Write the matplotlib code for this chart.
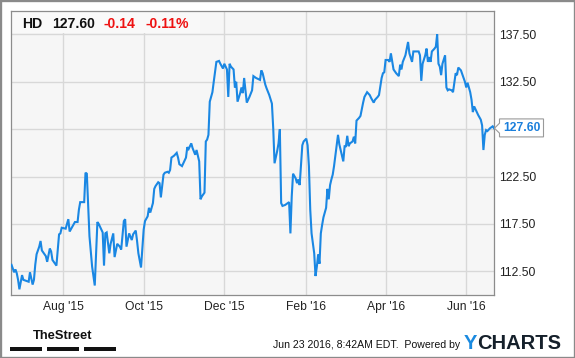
import matplotlib
matplotlib.use("Agg")
import matplotlib.pyplot as plt
import matplotlib.patches as mpatches
import matplotlib.transforms as mtrans
import pandas as pd
import numpy as np

# ---------------- data ----------------
base_date = "2015-08-01"
day_offsets = [-40, -39, -37, -36, -35, -34, -33, -31, -30, -26, -25, -23, -22, -21, -20, -18, -17, -16, -13, -12,
               -10, -9, -8, -5, -3, -2, -1, 2, 4, 5, 7, 9, 11, 12, 13, 16, 17, 18, 20, 22,
               24, 26, 27, 29, 30, 31, 32, 33, 35, 36, 38, 39, 41, 43, 44, 46, 47, 48, 50, 52,
               53, 55, 56, 57, 59, 61, 62, 64, 65, 66, 68, 69, 70, 72, 73, 74, 76, 77, 79, 80,
               81, 82, 84, 86, 87, 88, 90, 93, 94, 95, 97, 98, 100, 101, 103, 104, 105, 107, 108, 109,
               110, 111, 113, 114, 116, 118, 119, 121, 122, 124, 125, 126, 127, 129, 130, 131, 132, 134, 135, 136,
               137, 139, 141, 143, 144, 146, 149, 150, 151, 153, 154, 156, 158, 159, 160, 162, 163, 164, 165, 166,
               168, 171, 172, 173, 174, 176, 177, 178, 179, 181, 182, 184, 185, 186, 187, 188, 190, 191, 192, 193,
               194, 195, 196, 197, 199, 200, 201, 202, 203, 204, 205, 208, 209, 212, 213, 214, 215, 216, 217, 219,
               220, 221, 222, 224, 225, 227, 228, 230, 232, 233, 235, 236, 238, 239, 241, 242, 243, 244, 246, 247,
               248, 250, 252, 254, 255, 256, 257, 259, 260, 261, 262, 264, 265, 268, 269, 270, 271, 272, 274, 275,
               276, 277, 278, 279, 281, 282, 283, 284, 285, 286, 287, 289, 290, 291, 292, 294, 295, 297, 298, 299,
               301, 303, 304, 305, 306, 308, 309, 310, 311, 312, 314, 316, 317, 318, 319, 320, 321, 323, 325, 326]
prices = [113.2, 113.2, 112.4, 112.7, 112.3, 111.6, 110.6, 112.1, 111.6, 111.4, 112.4, 111.1, 111.6, 113.2, 114.3, 115.1, 115.7, 114.7, 114.1, 113.5,
          114.9, 114.6, 113.7, 113.1, 116.4, 116.5, 117.1, 117.0, 118.0, 116.7, 117.2, 117.7, 117.7, 119.0, 119.8, 119.8, 122.9, 122.8, 116.2, 113.0,
          111.0, 117.7, 117.5, 116.9, 116.6, 113.1, 116.5, 116.6, 114.4, 115.4, 116.5, 114.0, 115.4, 115.1, 114.8, 117.8, 118.0, 115.1, 116.5, 115.8,
          116.4, 116.8, 115.7, 114.4, 112.9, 116.9, 117.8, 118.3, 119.2, 118.7, 119.7, 121.2, 121.5, 121.9, 121.8, 120.3, 122.7, 122.9, 123.0, 122.9,
          123.2, 124.5, 124.7, 125.0, 124.5, 123.8, 123.6, 124.5, 125.6, 125.4, 126.0, 125.5, 124.8, 125.3, 124.1, 120.1, 120.4, 120.8, 126.2, 126.4,
          126.9, 130.4, 131.4, 132.5, 134.6, 134.7, 134.4, 133.9, 134.4, 133.8, 130.9, 134.4, 134.1, 133.8, 131.9, 132.5, 130.4, 131.3, 131.9, 131.3,
          132.9, 130.3, 130.9, 131.6, 133.1, 132.9, 132.7, 133.7, 133.4, 132.2, 131.8, 131.1, 130.2, 127.6, 123.9, 125.2, 126.0, 127.5, 119.7, 119.4,
          119.5, 119.8, 116.5, 120.4, 122.8, 122.3, 121.8, 122.2, 121.6, 125.8, 126.2, 126.5, 125.8, 123.6, 119.0, 116.5, 114.4, 112.0, 113.0, 114.3,
          113.3, 116.5, 117.4, 118.2, 119.2, 121.2, 120.1, 121.6, 122.2, 122.7, 123.6, 126.9, 125.9, 124.1, 125.7, 125.7, 126.8, 125.7, 126.0, 126.2,
          126.7, 126.0, 128.4, 128.7, 128.9, 130.3, 130.9, 131.4, 131.1, 130.8, 130.3, 130.6, 130.9, 131.1, 132.9, 133.4, 133.5, 134.8, 134.8, 134.6,
          135.5, 133.8, 133.4, 133.1, 134.3, 133.8, 134.6, 135.3, 136.0, 136.7, 135.5, 134.6, 135.7, 135.7, 135.7, 135.3, 132.6, 134.4, 135.3, 136.0,
          134.6, 135.1, 134.6, 135.7, 136.0, 136.2, 137.5, 134.4, 134.1, 133.2, 134.4, 135.3, 131.9, 131.6, 131.7, 131.6, 131.4, 133.4, 133.2, 134.0,
          133.7, 132.9, 132.5, 131.9, 132.4, 131.4, 130.6, 129.3, 129.9, 129.6, 129.0, 128.5, 127.9, 125.3, 126.9, 127.4, 127.3, 127.6, 127.8, 127.6]

ticker = "HD"
last_price = "127.60"
change = "-0.14"
change_pct = "-0.11%"
x_tick_dates = ["2015-08-01", "2015-10-01", "2015-12-01", "2016-02-01", "2016-04-01", "2016-06-01"]
x_tick_labels = ["Aug '15", "Oct '15", "Dec '15", "Feb '16", "Apr '16", "Jun '16"]
y_ticks = [112.5, 117.5, 122.5, 127.5, 132.5, 137.5]
y_tick_labels = ["112.50", "117.50", "122.50", "", "132.50", "137.50"]  # 127.50 hidden by the price callout
x_start = "2015-06-22 10:00"
x_end = "2016-06-22"
timestamp = "Jun 23 2016, 8:42AM EDT.  Powered by"

# ---------------- figure ----------------
plt.rcParams['font.family'] = ['Liberation Sans', 'DejaVu Sans']
W, H = 575, 358
fig = plt.figure(figsize=(W / 100, H / 100), dpi=100)
fig.patch.set_facecolor('white')

L, R, T, B = 10.7, 494.0, 10.7, 295.0
ax = fig.add_axes([L / W, 1 - B / H, (R - L) / W, (B - T) / H])
ax.set_facecolor('#f6f6f6')

dates = pd.Timestamp(base_date) + pd.to_timedelta(day_offsets, unit='D')
line_color = '#1a87e3'
ax.plot(dates, prices, color=line_color, lw=1.5, zorder=3, solid_joinstyle='miter')

ax.set_xlim(pd.Timestamp(x_start), pd.Timestamp(x_end))
ax.set_ylim(110, 140)
ax.set_xticks(pd.to_datetime(x_tick_dates))
ax.set_xticklabels(x_tick_labels)
ax.set_yticks(y_ticks)
ax.set_yticklabels(y_tick_labels)
ax.yaxis.tick_right()
ax.tick_params(axis='both', length=0, labelsize=8.7, colors='#222222')
ax.tick_params(axis='y', pad=4)
ax.tick_params(axis='x', pad=4)
ax.grid(True, color='#d8d8d8', lw=1.0)
ax.set_axisbelow(True)
for s in ax.spines.values():
    s.set_color('#8c8c8c')
    s.set_linewidth(0.9)

# header box
hdr = mpatches.Rectangle((L / W, 1 - 33.3 / H), (200 - L) / W, (33.3 - T) / H,
                         transform=fig.transFigure, facecolor='#f9f9f9', edgecolor='none', zorder=2)
ax.add_artist(hdr)
hy = 1 - 28.3 / H
fig.text(21.7 / W, hy, ticker, fontsize=10.1, fontweight='bold', color='#111111', va='baseline')
fig.text(51.7 / W, hy, last_price, fontsize=10.1, fontweight='bold', color='#111111', va='baseline')
fig.text(104 / W, hy, change, fontsize=10.1, fontweight='bold', color='#ee1111', va='baseline')
fig.text(145 / W, hy, change_pct, fontsize=10.1, fontweight='bold', color='#ee1111', va='baseline')

# last price callout
fig.canvas.draw()
axx, ayy = ax.transData.transform((ax.get_xlim()[1], prices[-1]))
pts = [(axx + 0.5, ayy), (axx + 5.5, ayy + 5), (axx + 5.5, ayy + 9.3), (axx + 49.5, ayy + 9.3),
       (axx + 49.5, ayy - 8.7), (axx + 5.5, ayy - 8.7), (axx + 5.5, ayy - 5)]
poly = mpatches.Polygon(pts, closed=True, facecolor='white', edgecolor='#9a9a9a', lw=0.8,
                        transform=mtrans.IdentityTransform(), zorder=5)
fig.add_artist(poly)
fig.text((axx + 27.5) / W, ayy / H, last_price, fontsize=8.7, fontweight='bold', color='#1a7fdc',
         ha='center', va='center', zorder=6)

# footer
fig.text(62.5 / W, 1 - 336 / H, "TheStreet", fontsize=9.3, fontweight='bold', color='#111111',
         ha='center', va='center')
for x0, x1 in [(9.9, 42.2), (46.9, 78.8), (83.6, 115.5)]:
    fig.add_artist(mpatches.Rectangle((x0 / W, 1 - 350.7 / H), (x1 - x0) / W, 4 / H,
                                      transform=fig.transFigure, facecolor='#111111', edgecolor='none'))
fig.text(460 / W, 1 - 347.5 / H, timestamp, fontsize=7.6, color='#111111', va='baseline', ha='right')
fig.text(464 / W, 1 - 349.3 / H, "Y", fontsize=14.5, fontweight='bold', color='#1a8ae0', va='baseline')
fig.text(477.5 / W, 1 - 349.3 / H, "CHARTS", fontsize=14.5, fontweight='bold', color='#15202b', va='baseline')

# outer border
fig.add_artist(mpatches.Rectangle((0, 0), 1, 1, transform=fig.transFigure, fill=False,
                                  edgecolor='#8a8a8a', lw=2.4))

fig.savefig("out.png", dpi=100)
